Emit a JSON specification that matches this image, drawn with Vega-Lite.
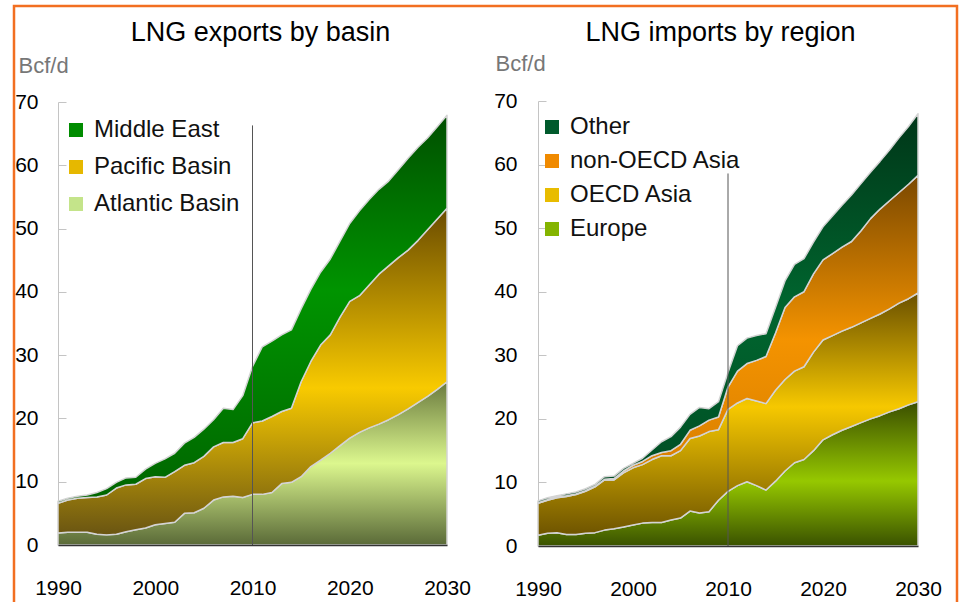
{
  "$schema": "https://vega.github.io/schema/vega-lite/v6.json",
  "autosize": "none",
  "padding": {"left": 14, "top": 6, "right": 5, "bottom": 0},
  "width": 943,
  "height": 600,
  "background": "white",
  "config": {
    "font": "Liberation Sans",
    "view": {"stroke": "#f26f21", "strokeWidth": 2.5},
    "axis": {"grid": false, "labelFont": "Liberation Sans", "titleFont": "Liberation Sans", "labelFlush": false},
    "legend": {"labelFont": "Liberation Sans", "labelLimit": 400}
  },
  "datasets": {
    "exports": [
      {"year":1990,"series":"Atlantic Basin","value":1.9},{"year":1990,"series":"Pacific Basin","value":4.7},{"year":1990,"series":"Middle East","value":0.3},
      {"year":1991,"series":"Atlantic Basin","value":2.0},{"year":1991,"series":"Pacific Basin","value":5.1},{"year":1991,"series":"Middle East","value":0.3},
      {"year":1992,"series":"Atlantic Basin","value":2.0},{"year":1992,"series":"Pacific Basin","value":5.4},{"year":1992,"series":"Middle East","value":0.3},
      {"year":1993,"series":"Atlantic Basin","value":2.0},{"year":1993,"series":"Pacific Basin","value":5.5},{"year":1993,"series":"Middle East","value":0.4},
      {"year":1994,"series":"Atlantic Basin","value":1.7},{"year":1994,"series":"Pacific Basin","value":5.9},{"year":1994,"series":"Middle East","value":0.7},
      {"year":1995,"series":"Atlantic Basin","value":1.6},{"year":1995,"series":"Pacific Basin","value":6.3},{"year":1995,"series":"Middle East","value":1.0},
      {"year":1996,"series":"Atlantic Basin","value":1.7},{"year":1996,"series":"Pacific Basin","value":7.3},{"year":1996,"series":"Middle East","value":0.9},
      {"year":1997,"series":"Atlantic Basin","value":2.1},{"year":1997,"series":"Pacific Basin","value":7.4},{"year":1997,"series":"Middle East","value":1.1},
      {"year":1998,"series":"Atlantic Basin","value":2.4},{"year":1998,"series":"Pacific Basin","value":7.2},{"year":1998,"series":"Middle East","value":1.1},
      {"year":1999,"series":"Atlantic Basin","value":2.7},{"year":1999,"series":"Pacific Basin","value":7.8},{"year":1999,"series":"Middle East","value":1.5},
      {"year":2000,"series":"Atlantic Basin","value":3.2},{"year":2000,"series":"Pacific Basin","value":7.6},{"year":2000,"series":"Middle East","value":2.1},
      {"year":2001,"series":"Atlantic Basin","value":3.4},{"year":2001,"series":"Pacific Basin","value":7.3},{"year":2001,"series":"Middle East","value":2.9},
      {"year":2002,"series":"Atlantic Basin","value":3.6},{"year":2002,"series":"Pacific Basin","value":8.0},{"year":2002,"series":"Middle East","value":2.9},
      {"year":2003,"series":"Atlantic Basin","value":5.0},{"year":2003,"series":"Pacific Basin","value":7.6},{"year":2003,"series":"Middle East","value":3.5},
      {"year":2004,"series":"Atlantic Basin","value":5.1},{"year":2004,"series":"Pacific Basin","value":7.9},{"year":2004,"series":"Middle East","value":4.0},
      {"year":2005,"series":"Atlantic Basin","value":5.8},{"year":2005,"series":"Pacific Basin","value":8.2},{"year":2005,"series":"Middle East","value":4.3},
      {"year":2006,"series":"Atlantic Basin","value":7.1},{"year":2006,"series":"Pacific Basin","value":8.4},{"year":2006,"series":"Middle East","value":4.3},
      {"year":2007,"series":"Atlantic Basin","value":7.6},{"year":2007,"series":"Pacific Basin","value":8.6},{"year":2007,"series":"Middle East","value":5.4},
      {"year":2008,"series":"Atlantic Basin","value":7.7},{"year":2008,"series":"Pacific Basin","value":8.5},{"year":2008,"series":"Middle East","value":5.2},
      {"year":2009,"series":"Atlantic Basin","value":7.5},{"year":2009,"series":"Pacific Basin","value":9.3},{"year":2009,"series":"Middle East","value":6.8},
      {"year":2010,"series":"Atlantic Basin","value":8.0},{"year":2010,"series":"Pacific Basin","value":11.3},{"year":2010,"series":"Middle East","value":8.9},
      {"year":2011,"series":"Atlantic Basin","value":8.0},{"year":2011,"series":"Pacific Basin","value":11.6},{"year":2011,"series":"Middle East","value":11.7},
      {"year":2012,"series":"Atlantic Basin","value":8.3},{"year":2012,"series":"Pacific Basin","value":12.0},{"year":2012,"series":"Middle East","value":11.9},
      {"year":2013,"series":"Atlantic Basin","value":9.7},{"year":2013,"series":"Pacific Basin","value":11.4},{"year":2013,"series":"Middle East","value":12.1},
      {"year":2014,"series":"Atlantic Basin","value":9.9},{"year":2014,"series":"Pacific Basin","value":11.7},{"year":2014,"series":"Middle East","value":12.4},
      {"year":2015,"series":"Atlantic Basin","value":10.8},{"year":2015,"series":"Pacific Basin","value":15.0},{"year":2015,"series":"Middle East","value":11.5},
      {"year":2016,"series":"Atlantic Basin","value":12.4},{"year":2016,"series":"Pacific Basin","value":16.6},{"year":2016,"series":"Middle East","value":11.4},
      {"year":2017,"series":"Atlantic Basin","value":13.4},{"year":2017,"series":"Pacific Basin","value":18.2},{"year":2017,"series":"Middle East","value":11.5},
      {"year":2018,"series":"Atlantic Basin","value":14.5},{"year":2018,"series":"Pacific Basin","value":18.7},{"year":2018,"series":"Middle East","value":12.0},
      {"year":2019,"series":"Atlantic Basin","value":15.7},{"year":2019,"series":"Pacific Basin","value":20.3},{"year":2019,"series":"Middle East","value":12.0},
      {"year":2020,"series":"Atlantic Basin","value":16.9},{"year":2020,"series":"Pacific Basin","value":21.6},{"year":2020,"series":"Middle East","value":12.3},
      {"year":2021,"series":"Atlantic Basin","value":17.8},{"year":2021,"series":"Pacific Basin","value":21.6},{"year":2021,"series":"Middle East","value":13.4},
      {"year":2022,"series":"Atlantic Basin","value":18.5},{"year":2022,"series":"Pacific Basin","value":22.6},{"year":2022,"series":"Middle East","value":13.5},
      {"year":2023,"series":"Atlantic Basin","value":19.1},{"year":2023,"series":"Pacific Basin","value":23.7},{"year":2023,"series":"Middle East","value":13.4},
      {"year":2024,"series":"Atlantic Basin","value":19.8},{"year":2024,"series":"Pacific Basin","value":24.3},{"year":2024,"series":"Middle East","value":13.4},
      {"year":2025,"series":"Atlantic Basin","value":20.6},{"year":2025,"series":"Pacific Basin","value":24.8},{"year":2025,"series":"Middle East","value":13.9},
      {"year":2026,"series":"Atlantic Basin","value":21.5},{"year":2026,"series":"Pacific Basin","value":25.1},{"year":2026,"series":"Middle East","value":14.5},
      {"year":2027,"series":"Atlantic Basin","value":22.5},{"year":2027,"series":"Pacific Basin","value":25.6},{"year":2027,"series":"Middle East","value":14.7},
      {"year":2028,"series":"Atlantic Basin","value":23.5},{"year":2028,"series":"Pacific Basin","value":26.3},{"year":2028,"series":"Middle East","value":14.5},
      {"year":2029,"series":"Atlantic Basin","value":24.6},{"year":2029,"series":"Pacific Basin","value":26.9},{"year":2029,"series":"Middle East","value":14.6},
      {"year":2030,"series":"Atlantic Basin","value":25.8},{"year":2030,"series":"Pacific Basin","value":27.4},{"year":2030,"series":"Middle East","value":14.7}
    ],
    "imports": [
      {"year":1990,"series":"Europe","value":1.7},{"year":1990,"series":"OECD Asia","value":5.0},{"year":1990,"series":"non-OECD Asia","value":0.1},{"year":1990,"series":"Other","value":0.3},
      {"year":1991,"series":"Europe","value":2.0},{"year":1991,"series":"OECD Asia","value":5.2},{"year":1991,"series":"non-OECD Asia","value":0.1},{"year":1991,"series":"Other","value":0.3},
      {"year":1992,"series":"Europe","value":2.1},{"year":1992,"series":"OECD Asia","value":5.5},{"year":1992,"series":"non-OECD Asia","value":0.1},{"year":1992,"series":"Other","value":0.2},
      {"year":1993,"series":"Europe","value":1.8},{"year":1993,"series":"OECD Asia","value":6.0},{"year":1993,"series":"non-OECD Asia","value":0.1},{"year":1993,"series":"Other","value":0.3},
      {"year":1994,"series":"Europe","value":1.8},{"year":1994,"series":"OECD Asia","value":6.3},{"year":1994,"series":"non-OECD Asia","value":0.1},{"year":1994,"series":"Other","value":0.3},
      {"year":1995,"series":"Europe","value":2.0},{"year":1995,"series":"OECD Asia","value":6.6},{"year":1995,"series":"non-OECD Asia","value":0.1},{"year":1995,"series":"Other","value":0.3},
      {"year":1996,"series":"Europe","value":2.1},{"year":1996,"series":"OECD Asia","value":7.2},{"year":1996,"series":"non-OECD Asia","value":0.1},{"year":1996,"series":"Other","value":0.3},
      {"year":1997,"series":"Europe","value":2.5},{"year":1997,"series":"OECD Asia","value":7.9},{"year":1997,"series":"non-OECD Asia","value":0.1},{"year":1997,"series":"Other","value":0.4},
      {"year":1998,"series":"Europe","value":2.7},{"year":1998,"series":"OECD Asia","value":7.7},{"year":1998,"series":"non-OECD Asia","value":0.2},{"year":1998,"series":"Other","value":0.4},
      {"year":1999,"series":"Europe","value":3.0},{"year":1999,"series":"OECD Asia","value":8.5},{"year":1999,"series":"non-OECD Asia","value":0.3},{"year":1999,"series":"Other","value":0.4},
      {"year":2000,"series":"Europe","value":3.3},{"year":2000,"series":"OECD Asia","value":9.0},{"year":2000,"series":"non-OECD Asia","value":0.4},{"year":2000,"series":"Other","value":0.3},
      {"year":2001,"series":"Europe","value":3.6},{"year":2001,"series":"OECD Asia","value":9.2},{"year":2001,"series":"non-OECD Asia","value":0.5},{"year":2001,"series":"Other","value":0.5},
      {"year":2002,"series":"Europe","value":3.7},{"year":2002,"series":"OECD Asia","value":9.9},{"year":2002,"series":"non-OECD Asia","value":0.6},{"year":2002,"series":"Other","value":0.9},
      {"year":2003,"series":"Europe","value":3.7},{"year":2003,"series":"OECD Asia","value":10.5},{"year":2003,"series":"non-OECD Asia","value":0.5},{"year":2003,"series":"Other","value":1.7},
      {"year":2004,"series":"Europe","value":4.1},{"year":2004,"series":"OECD Asia","value":10.1},{"year":2004,"series":"non-OECD Asia","value":0.8},{"year":2004,"series":"Other","value":2.2},
      {"year":2005,"series":"Europe","value":4.4},{"year":2005,"series":"OECD Asia","value":10.6},{"year":2005,"series":"non-OECD Asia","value":1.0},{"year":2005,"series":"Other","value":2.7},
      {"year":2006,"series":"Europe","value":5.5},{"year":2006,"series":"OECD Asia","value":11.4},{"year":2006,"series":"non-OECD Asia","value":1.3},{"year":2006,"series":"Other","value":2.5},
      {"year":2007,"series":"Europe","value":5.2},{"year":2007,"series":"OECD Asia","value":12.1},{"year":2007,"series":"non-OECD Asia","value":1.6},{"year":2007,"series":"Other","value":2.9},
      {"year":2008,"series":"Europe","value":5.4},{"year":2008,"series":"OECD Asia","value":12.6},{"year":2008,"series":"non-OECD Asia","value":1.8},{"year":2008,"series":"Other","value":1.8},
      {"year":2009,"series":"Europe","value":7.2},{"year":2009,"series":"OECD Asia","value":11.1},{"year":2009,"series":"non-OECD Asia","value":2.0},{"year":2009,"series":"Other","value":2.4},
      {"year":2010,"series":"Europe","value":8.6},{"year":2010,"series":"OECD Asia","value":12.9},{"year":2010,"series":"non-OECD Asia","value":3.5},{"year":2010,"series":"Other","value":2.3},
      {"year":2011,"series":"Europe","value":9.5},{"year":2011,"series":"OECD Asia","value":13.0},{"year":2011,"series":"non-OECD Asia","value":5.0},{"year":2011,"series":"Other","value":4.0},
      {"year":2012,"series":"Europe","value":10.1},{"year":2012,"series":"OECD Asia","value":13.1},{"year":2012,"series":"non-OECD Asia","value":5.5},{"year":2012,"series":"Other","value":4.0},
      {"year":2013,"series":"Europe","value":9.5},{"year":2013,"series":"OECD Asia","value":13.3},{"year":2013,"series":"non-OECD Asia","value":6.4},{"year":2013,"series":"Other","value":3.9},
      {"year":2014,"series":"Europe","value":8.8},{"year":2014,"series":"OECD Asia","value":13.6},{"year":2014,"series":"non-OECD Asia","value":7.4},{"year":2014,"series":"Other","value":3.6},
      {"year":2015,"series":"Europe","value":10.2},{"year":2015,"series":"OECD Asia","value":14.3},{"year":2015,"series":"non-OECD Asia","value":9.0},{"year":2015,"series":"Other","value":4.0},
      {"year":2016,"series":"Europe","value":11.8},{"year":2016,"series":"OECD Asia","value":14.4},{"year":2016,"series":"non-OECD Asia","value":11.3},{"year":2016,"series":"Other","value":4.2},
      {"year":2017,"series":"Europe","value":13.1},{"year":2017,"series":"OECD Asia","value":14.4},{"year":2017,"series":"non-OECD Asia","value":11.7},{"year":2017,"series":"Other","value":5.1},
      {"year":2018,"series":"Europe","value":13.6},{"year":2018,"series":"OECD Asia","value":14.6},{"year":2018,"series":"non-OECD Asia","value":11.8},{"year":2018,"series":"Other","value":5.2},
      {"year":2019,"series":"Europe","value":15.0},{"year":2019,"series":"OECD Asia","value":15.5},{"year":2019,"series":"non-OECD Asia","value":12.3},{"year":2019,"series":"Other","value":5.0},
      {"year":2020,"series":"Europe","value":16.7},{"year":2020,"series":"OECD Asia","value":15.7},{"year":2020,"series":"non-OECD Asia","value":12.6},{"year":2020,"series":"Other","value":5.2},
      {"year":2021,"series":"Europe","value":17.5},{"year":2021,"series":"OECD Asia","value":15.6},{"year":2021,"series":"non-OECD Asia","value":12.9},{"year":2021,"series":"Other","value":5.9},
      {"year":2022,"series":"Europe","value":18.2},{"year":2022,"series":"OECD Asia","value":15.6},{"year":2022,"series":"non-OECD Asia","value":13.2},{"year":2022,"series":"Other","value":6.6},
      {"year":2023,"series":"Europe","value":18.8},{"year":2023,"series":"OECD Asia","value":15.6},{"year":2023,"series":"non-OECD Asia","value":13.5},{"year":2023,"series":"Other","value":7.3},
      {"year":2024,"series":"Europe","value":19.4},{"year":2024,"series":"OECD Asia","value":15.7},{"year":2024,"series":"non-OECD Asia","value":14.5},{"year":2024,"series":"Other","value":7.4},
      {"year":2025,"series":"Europe","value":20.0},{"year":2025,"series":"OECD Asia","value":15.8},{"year":2025,"series":"non-OECD Asia","value":15.7},{"year":2025,"series":"Other","value":7.3},
      {"year":2026,"series":"Europe","value":20.5},{"year":2026,"series":"OECD Asia","value":16.0},{"year":2026,"series":"non-OECD Asia","value":16.5},{"year":2026,"series":"Other","value":7.5},
      {"year":2027,"series":"Europe","value":21.1},{"year":2027,"series":"OECD Asia","value":16.2},{"year":2027,"series":"non-OECD Asia","value":17.0},{"year":2027,"series":"Other","value":8.0},
      {"year":2028,"series":"Europe","value":21.6},{"year":2028,"series":"OECD Asia","value":16.6},{"year":2028,"series":"non-OECD Asia","value":17.4},{"year":2028,"series":"Other","value":8.6},
      {"year":2029,"series":"Europe","value":22.2},{"year":2029,"series":"OECD Asia","value":16.7},{"year":2029,"series":"non-OECD Asia","value":18.0},{"year":2029,"series":"Other","value":9.1},
      {"year":2030,"series":"Europe","value":22.7},{"year":2030,"series":"OECD Asia","value":17.1},{"year":2030,"series":"non-OECD Asia","value":18.5},{"year":2030,"series":"Other","value":9.7}
    ],
    "divider": [
      {"panel":"exports","year":2010,"lo":0,"hi":66.3},
      {"panel":"imports","year":2010,"lo":0,"hi":58.6}
    ]
  },
  "layer": [
    {
      "layer": [
        {
          "data": {"name": "exports"},
          "transform": [
            {"calculate": "indexof(['Atlantic Basin','Pacific Basin','Middle East'], datum.series)", "as": "k"},
            {"stack": "value", "groupby": ["year"], "sort": [{"field": "k"}], "as": ["v0", "v1"]},
            {"filter": "datum.series === 'Atlantic Basin'"}
          ],
          "mark": {"type": "area", "stroke": "#d4d4d4", "strokeWidth": 1.5, "strokeJoin": "round",
            "fill": {"gradient": "linear", "x1": 0, "y1": 0, "x2": 0, "y2": 1, "stops": [{"offset": 0, "color": "#6a7a3e"}, {"offset": 0.5, "color": "#dcf78e"}, {"offset": 1, "color": "#5a6a38"}]}},
          "encoding": {
            "x": {"field": "year", "type": "quantitative",
              "scale": {"domain": [1990, 2030], "range": [44, 433], "nice": false, "zero": false},
              "axis": {"orient": "bottom", "values": [1990, 2000, 2010, 2020, 2030], "format": "d", "offset": -61, "zindex": 1,
                "domainColor": "#333333", "domainWidth": 1.5, "ticks": false, "labelPadding": 32, "labelFlush": false,
                "labelFontSize": 21, "labelColor": "#000000",
                "title": "LNG exports by basin", "titleX": 246, "titleY": -505, "titleAlign": "center",
                "titleBaseline": "alphabetic", "titleFontSize": 27, "titleFontWeight": "normal", "titleColor": "#000000"}},
            "y": {"field": "v1", "type": "quantitative",
              "scale": {"domain": [0, 70], "range": [539, 96], "nice": false},
              "axis": {"orient": "left", "values": [0, 10, 20, 30, 40, 50, 60, 70], "offset": -44, "zindex": 0,
                "domainColor": "#c4c4c4", "domainWidth": 1, "tickColor": "#c4c4c4", "tickSize": -8,
                "labelPadding": 28, "labelFontSize": 21, "labelColor": "#000000",
                "title": "Bcf/d", "titleAngle": 0, "titleAlign": "left", "titleBaseline": "alphabetic",
                "titleX": -40, "titleY": 66, "titleFontSize": 22, "titleFontWeight": "normal", "titleColor": "#777777"}},
            "y2": {"field": "v0"}
          }
        },
        {
          "data": {"name": "exports"},
          "transform": [
            {"calculate": "indexof(['Atlantic Basin','Pacific Basin','Middle East'], datum.series)", "as": "k"},
            {"stack": "value", "groupby": ["year"], "sort": [{"field": "k"}], "as": ["v0", "v1"]},
            {"filter": "datum.series === 'Pacific Basin'"}
          ],
          "mark": {"type": "area", "stroke": "#d4d4d4", "strokeWidth": 1.5, "strokeJoin": "round",
            "fill": {"gradient": "linear", "x1": 0, "y1": 0, "x2": 0, "y2": 1, "stops": [{"offset": 0, "color": "#6a4b00"}, {"offset": 0.55, "color": "#f8ca00"}, {"offset": 1, "color": "#6a5512"}]}},
          "encoding": {
            "x": {"field": "year", "type": "quantitative", "scale": {"domain": [1990, 2030], "range": [44, 433], "nice": false, "zero": false}},
            "y": {"field": "v1", "type": "quantitative", "scale": {"domain": [0, 70], "range": [539, 96], "nice": false}},
            "y2": {"field": "v0"}
          }
        },
        {
          "data": {"name": "exports"},
          "transform": [
            {"calculate": "indexof(['Atlantic Basin','Pacific Basin','Middle East'], datum.series)", "as": "k"},
            {"stack": "value", "groupby": ["year"], "sort": [{"field": "k"}], "as": ["v0", "v1"]},
            {"filter": "datum.series === 'Middle East'"}
          ],
          "mark": {"type": "area", "stroke": "#d4d4d4", "strokeWidth": 1.5, "strokeJoin": "round",
            "fill": {"gradient": "linear", "x1": 0, "y1": 0, "x2": 0, "y2": 1, "stops": [{"offset": 0, "color": "#004f00"}, {"offset": 0.45, "color": "#009400"}, {"offset": 1, "color": "#006400"}]}},
          "encoding": {
            "x": {"field": "year", "type": "quantitative", "scale": {"domain": [1990, 2030], "range": [44, 433], "nice": false, "zero": false}},
            "y": {"field": "v1", "type": "quantitative", "scale": {"domain": [0, 70], "range": [539, 96], "nice": false}},
            "y2": {"field": "v0"}
          }
        },
        {
          "data": {"name": "exports"},
          "mark": {"type": "square", "opacity": 0},
          "encoding": {
            "x": {"field": "year", "type": "quantitative", "scale": {"domain": [1990, 2030], "range": [44, 433], "nice": false, "zero": false}},
            "y": {"field": "value", "type": "quantitative", "scale": {"domain": [0, 70], "range": [539, 96], "nice": false}},
            "fill": {"field": "series", "type": "nominal",
              "scale": {"domain": ["Middle East", "Pacific Basin", "Atlantic Basin"], "range": ["#008c00", "#e6b800", "#c4e48a"]},
              "legend": {"orient": "none", "legendX": 50, "legendY": 112, "title": null, "symbolType": "square",
                "symbolSize": 196, "symbolStrokeColor": "#aaaaaa", "symbolStrokeWidth": 1, "symbolOpacity": 1,
                "labelFontSize": 24, "labelColor": "#111111", "labelOffset": 6, "rowPadding": 13, "labelLimit": 400,
                "encode": {"symbols": {"update": {"fill": {"signal": "datum.value === 'Middle East' ? {gradient: 'linear', x1: 0, y1: 0, x2: 0, y2: 1, stops: [{offset: 0, color: '#00a000'}, {offset: 0.7, color: '#008400'}, {offset: 1, color: '#004c00'}]} : datum.value === 'Pacific Basin' ? {gradient: 'linear', x1: 0, y1: 0, x2: 0, y2: 1, stops: [{offset: 0, color: '#f8cc00'}, {offset: 0.6, color: '#dcae00'}, {offset: 1, color: '#6a5000'}]} : {gradient: 'linear', x1: 0, y1: 0, x2: 0, y2: 1, stops: [{offset: 0, color: '#dcf792'}, {offset: 0.6, color: '#b8d484'}, {offset: 1, color: '#6a7a40'}]}"}}}}}}
          }
        },
        {
          "data": {"name": "divider"},
          "transform": [{"filter": "datum.panel === 'exports'"}],
          "mark": {"type": "rule", "color": "#555555", "strokeWidth": 1},
          "encoding": {
            "x": {"field": "year", "type": "quantitative", "scale": {"domain": [1990, 2030], "range": [44, 433], "nice": false, "zero": false}},
            "y": {"field": "lo", "type": "quantitative", "scale": {"domain": [0, 70], "range": [539, 96], "nice": false}},
            "y2": {"field": "hi"}
          }
        }
      ]
    },
    {
      "layer": [
        {
          "data": {"name": "imports"},
          "transform": [
            {"calculate": "indexof(['Europe','OECD Asia','non-OECD Asia','Other'], datum.series)", "as": "k"},
            {"stack": "value", "groupby": ["year"], "sort": [{"field": "k"}], "as": ["v0", "v1"]},
            {"filter": "datum.series === 'Europe'"}
          ],
          "mark": {"type": "area", "stroke": "#d4d4d4", "strokeWidth": 1.5, "strokeJoin": "round",
            "fill": {"gradient": "linear", "x1": 0, "y1": 0, "x2": 0, "y2": 1, "stops": [{"offset": 0, "color": "#3a4e00"}, {"offset": 0.55, "color": "#96c800"}, {"offset": 1, "color": "#3a5200"}]}},
          "encoding": {
            "x": {"field": "year", "type": "quantitative",
              "scale": {"domain": [1990, 2030], "range": [524, 904], "nice": false, "zero": false},
              "axis": {"orient": "bottom", "values": [1990, 2000, 2010, 2020, 2030], "format": "d", "offset": -60, "zindex": 1,
                "domainColor": "#333333", "domainWidth": 1.5, "ticks": false, "labelPadding": 32, "labelFlush": false,
                "labelFontSize": 21, "labelColor": "#000000",
                "title": "LNG imports by region", "titleX": 706, "titleY": -506, "titleAlign": "center",
                "titleBaseline": "alphabetic", "titleFontSize": 27, "titleFontWeight": "normal", "titleColor": "#000000"}},
            "y": {"field": "v1", "type": "quantitative",
              "scale": {"domain": [0, 70], "range": [540, 95], "nice": false},
              "axis": {"values": [0, 10, 20, 30, 40, 50, 60, 70], "offset": -524, "orient": "left", "zindex": 0,
                "domainColor": "#c4c4c4", "domainWidth": 1, "tickColor": "#c4c4c4", "tickSize": -8,
                "labelPadding": 29, "labelFontSize": 21, "labelColor": "#000000",
                "title": "Bcf/d", "titleAngle": 0, "titleAlign": "left", "titleBaseline": "alphabetic",
                "titleX": -43, "titleY": 64, "titleFontSize": 22, "titleFontWeight": "normal", "titleColor": "#777777"}},
            "y2": {"field": "v0"}
          }
        },
        {
          "data": {"name": "imports"},
          "transform": [
            {"calculate": "indexof(['Europe','OECD Asia','non-OECD Asia','Other'], datum.series)", "as": "k"},
            {"stack": "value", "groupby": ["year"], "sort": [{"field": "k"}], "as": ["v0", "v1"]},
            {"filter": "datum.series === 'OECD Asia'"}
          ],
          "mark": {"type": "area", "stroke": "#d4d4d4", "strokeWidth": 1.5, "strokeJoin": "round",
            "fill": {"gradient": "linear", "x1": 0, "y1": 0, "x2": 0, "y2": 1, "stops": [{"offset": 0, "color": "#6a5000"}, {"offset": 0.47, "color": "#f6c800"}, {"offset": 1, "color": "#6e5400"}]}},
          "encoding": {
            "x": {"field": "year", "type": "quantitative", "scale": {"domain": [1990, 2030], "range": [524, 904], "nice": false, "zero": false}},
            "y": {"field": "v1", "type": "quantitative", "scale": {"domain": [0, 70], "range": [540, 95], "nice": false}},
            "y2": {"field": "v0"}
          }
        },
        {
          "data": {"name": "imports"},
          "transform": [
            {"calculate": "indexof(['Europe','OECD Asia','non-OECD Asia','Other'], datum.series)", "as": "k"},
            {"stack": "value", "groupby": ["year"], "sort": [{"field": "k"}], "as": ["v0", "v1"]},
            {"filter": "datum.series === 'non-OECD Asia'"}
          ],
          "mark": {"type": "area", "stroke": "#d4d4d4", "strokeWidth": 1.5, "strokeJoin": "round",
            "fill": {"gradient": "linear", "x1": 0, "y1": 0, "x2": 0, "y2": 1, "stops": [{"offset": 0, "color": "#7a4800"}, {"offset": 0.5, "color": "#f49300"}, {"offset": 1, "color": "#d27a00"}]}},
          "encoding": {
            "x": {"field": "year", "type": "quantitative", "scale": {"domain": [1990, 2030], "range": [524, 904], "nice": false, "zero": false}},
            "y": {"field": "v1", "type": "quantitative", "scale": {"domain": [0, 70], "range": [540, 95], "nice": false}},
            "y2": {"field": "v0"}
          }
        },
        {
          "data": {"name": "imports"},
          "transform": [
            {"calculate": "indexof(['Europe','OECD Asia','non-OECD Asia','Other'], datum.series)", "as": "k"},
            {"stack": "value", "groupby": ["year"], "sort": [{"field": "k"}], "as": ["v0", "v1"]},
            {"filter": "datum.series === 'Other'"}
          ],
          "mark": {"type": "area", "stroke": "#d4d4d4", "strokeWidth": 1.5, "strokeJoin": "round",
            "fill": {"gradient": "linear", "x1": 0, "y1": 0, "x2": 0, "y2": 1, "stops": [{"offset": 0, "color": "#003618"}, {"offset": 0.5, "color": "#00662f"}, {"offset": 1, "color": "#004a22"}]}},
          "encoding": {
            "x": {"field": "year", "type": "quantitative", "scale": {"domain": [1990, 2030], "range": [524, 904], "nice": false, "zero": false}},
            "y": {"field": "v1", "type": "quantitative", "scale": {"domain": [0, 70], "range": [540, 95], "nice": false}},
            "y2": {"field": "v0"}
          }
        },
        {
          "data": {"name": "imports"},
          "mark": {"type": "square", "opacity": 0},
          "encoding": {
            "x": {"field": "year", "type": "quantitative", "scale": {"domain": [1990, 2030], "range": [524, 904], "nice": false, "zero": false}},
            "y": {"field": "value", "type": "quantitative", "scale": {"domain": [0, 70], "range": [540, 95], "nice": false}},
            "fill": {"field": "series", "type": "nominal",
              "scale": {"domain": ["Other", "non-OECD Asia", "OECD Asia", "Europe"], "range": ["#005a2c", "#f08a00", "#e8bc00", "#84b400"]},
              "legend": {"orient": "none", "legendX": 526, "legendY": 109, "title": null, "symbolType": "square",
                "symbolSize": 196, "symbolStrokeColor": "#aaaaaa", "symbolStrokeWidth": 1, "symbolOpacity": 1,
                "labelFontSize": 24, "labelColor": "#111111", "labelOffset": 6, "rowPadding": 10, "labelLimit": 400,
                "encode": {"symbols": {"update": {"fill": {"signal": "datum.value === 'Other' ? {gradient: 'linear', x1: 0, y1: 0, x2: 0, y2: 1, stops: [{offset: 0, color: '#006c36'}, {offset: 0.7, color: '#00582c'}, {offset: 1, color: '#003a1a'}]} : datum.value === 'non-OECD Asia' ? {gradient: 'linear', x1: 0, y1: 0, x2: 0, y2: 1, stops: [{offset: 0, color: '#f89c00'}, {offset: 0.6, color: '#e48400'}, {offset: 1, color: '#8a5000'}]} : datum.value === 'OECD Asia' ? {gradient: 'linear', x1: 0, y1: 0, x2: 0, y2: 1, stops: [{offset: 0, color: '#f8cc00'}, {offset: 0.6, color: '#dcae00'}, {offset: 1, color: '#6a5000'}]} : {gradient: 'linear', x1: 0, y1: 0, x2: 0, y2: 1, stops: [{offset: 0, color: '#9ad000'}, {offset: 0.6, color: '#80b000'}, {offset: 1, color: '#4a6000'}]}"}}}}}}
          }
        },
        {
          "data": {"name": "divider"},
          "transform": [{"filter": "datum.panel === 'imports'"}],
          "mark": {"type": "rule", "color": "#555555", "strokeWidth": 1},
          "encoding": {
            "x": {"field": "year", "type": "quantitative", "scale": {"domain": [1990, 2030], "range": [524, 904], "nice": false, "zero": false}},
            "y": {"field": "lo", "type": "quantitative", "scale": {"domain": [0, 70], "range": [540, 95], "nice": false}},
            "y2": {"field": "hi"}
          }
        }
      ]
    }
  ],
  "resolve": {
    "scale": {"x": "independent", "y": "independent", "fill": "independent"},
    "axis": {"x": "independent", "y": "independent"},
    "legend": {"fill": "independent"}
  }
}
